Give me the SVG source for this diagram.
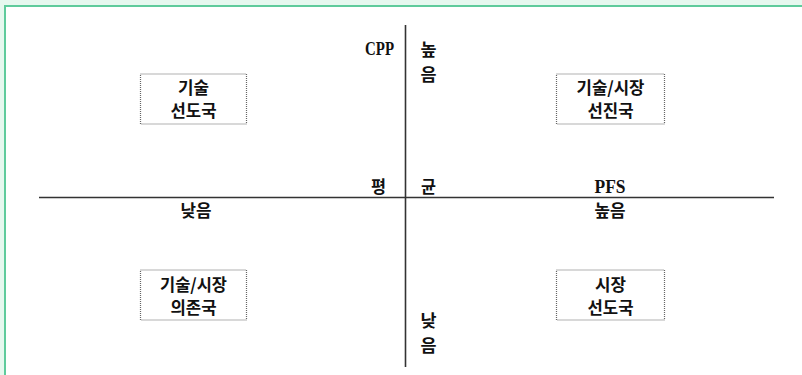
<svg xmlns="http://www.w3.org/2000/svg" width="802" height="375" viewBox="0 0 802 375">
<style>
.ax{stroke:#333;stroke-width:1.6;fill:none}
.box{fill:#fff;stroke:#666;stroke-width:1.2;stroke-dasharray:1 1}
.k{font-family:"Noto Sans CJK KR","Noto Sans",sans-serif;font-weight:bold;font-size:17px;fill:#111;text-anchor:middle}
.s{font-family:"Liberation Serif","DejaVu Serif",serif;font-weight:bold;font-size:19px;fill:#111;text-anchor:middle}
</style>
<rect x="0" y="0" width="802" height="375" fill="#e6f8ef"/>
<rect x="5" y="6" width="800" height="372" fill="#fff" stroke="#5fcb9c" stroke-width="2"/>
<g id="connectors">
<line class="ax" x1="405.5" y1="25" x2="405.5" y2="367"/>
<line class="ax" x1="39" y1="197.5" x2="774" y2="197.5"/>
</g>
<g id="axis-labels">
<text class="s" x="379.5" y="55" textLength="29" lengthAdjust="spacingAndGlyphs">CPP</text>
<text class="k" x="428.5" y="56" textLength="16" lengthAdjust="spacingAndGlyphs">높</text>
<text class="k" x="428.5" y="81" textLength="16" lengthAdjust="spacingAndGlyphs">음</text>
<text class="k" x="378.5" y="193" textLength="15" lengthAdjust="spacingAndGlyphs">평</text>
<text class="k" x="428.5" y="193" textLength="15" lengthAdjust="spacingAndGlyphs">균</text>
<text class="s" x="610" y="193" textLength="31" lengthAdjust="spacingAndGlyphs">PFS</text>
<text class="k" x="196" y="217" textLength="31" lengthAdjust="spacingAndGlyphs">낮음</text>
<text class="k" x="610" y="217" textLength="31" lengthAdjust="spacingAndGlyphs">높음</text>
<text class="k" x="428.5" y="327" textLength="16" lengthAdjust="spacingAndGlyphs">낮</text>
<text class="k" x="428.5" y="352" textLength="16" lengthAdjust="spacingAndGlyphs">음</text>
</g>
<g id="node-tech-leader">
<rect class="box" x="140.5" y="74" width="106" height="50"/>
<text class="k" x="193.5" y="94" textLength="31" lengthAdjust="spacingAndGlyphs">기술</text>
<text class="k" x="193.5" y="117" textLength="46" lengthAdjust="spacingAndGlyphs">선도국</text>
</g>
<g id="node-advanced">
<rect class="box" x="556.5" y="74" width="108" height="50"/>
<text class="k" x="610.5" y="94" textLength="68" lengthAdjust="spacingAndGlyphs">기술/시장</text>
<text class="k" x="610.5" y="117" textLength="46" lengthAdjust="spacingAndGlyphs">선진국</text>
</g>
<g id="node-dependent">
<rect class="box" x="140.5" y="270" width="106" height="50"/>
<text class="k" x="193.5" y="291" textLength="67" lengthAdjust="spacingAndGlyphs">기술/시장</text>
<text class="k" x="193.5" y="314" textLength="46" lengthAdjust="spacingAndGlyphs">의존국</text>
</g>
<g id="node-market-leader">
<rect class="box" x="556.5" y="270" width="108" height="50"/>
<text class="k" x="610.5" y="291" textLength="31" lengthAdjust="spacingAndGlyphs">시장</text>
<text class="k" x="610.5" y="314" textLength="46" lengthAdjust="spacingAndGlyphs">선도국</text>
</g>
</svg>
